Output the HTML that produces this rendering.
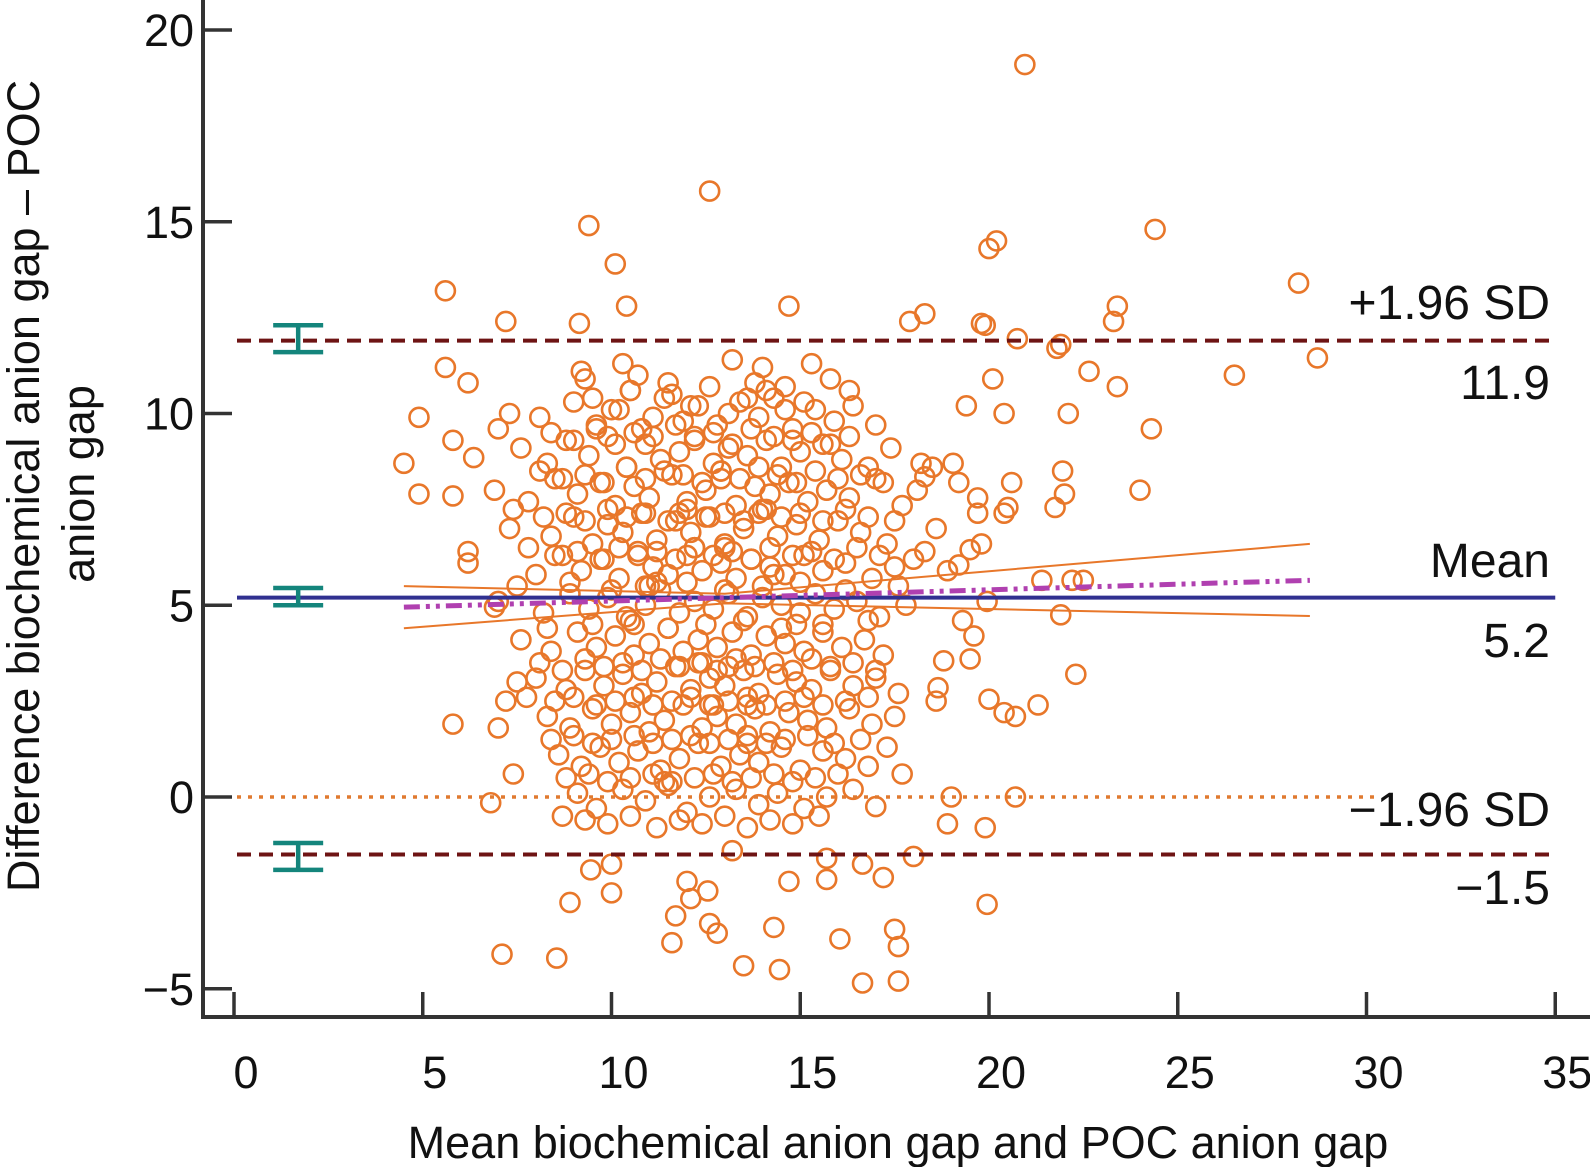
<!DOCTYPE html>
<html><head><meta charset="utf-8"><style>
html,body{margin:0;padding:0;background:#fff;}
svg{display:block;font-family:"Liberation Sans",Arial,sans-serif;}
</style></head><body>
<svg id="chart" width="1590" height="1167" viewBox="0 0 1590 1167" xmlns="http://www.w3.org/2000/svg">
<g id="pts"></g>
<g id="lines"></g>
<g id="axes"></g>
<text x="898" y="1158" font-size="45" text-anchor="middle" fill="#111">Mean biochemical anion gap and POC anion gap</text>
<text transform="translate(39,486) rotate(-90)" font-size="45" text-anchor="middle" fill="#111">Difference biochemical anion gap – POC</text>
<text transform="translate(94,484) rotate(-90)" font-size="45" text-anchor="middle" fill="#111">anion gap</text>
<text x="1550" y="319" font-size="48" text-anchor="end" fill="#111">+1.96 SD</text>
<text x="1550" y="399" font-size="48" text-anchor="end" fill="#111">11.9</text>
<text x="1550" y="577" font-size="48" text-anchor="end" fill="#111">Mean</text>
<text x="1550" y="657" font-size="48" text-anchor="end" fill="#111">5.2</text>
<text x="1550" y="826" font-size="48" text-anchor="end" fill="#111">−1.96 SD</text>
<text x="1550" y="904" font-size="48" text-anchor="end" fill="#111">−1.5</text>
</svg>
<script>
const xTicks=[0,5,10,15,20,25,30,35];
const yTicks=[-5,0,5,10,15,20];
const yTickLabels=["−5","0","5","10","15","20"];
const meanDiff=5.2, upperLoA=11.9, lowerLoA=-1.5;
const meanCI=[5.0,5.45], upperCI=[11.6,12.3], lowerCI=[-1.9,-1.2];
const regX=[4.5,28.5], regY=[4.95,5.65];
const ciUpperX=[4.5,13,28.5], ciUpperY=[5.5,5.3,6.6];
const ciLowerX=[4.5,13,28.5], ciLowerY=[4.4,5.05,4.72];
const ptsX=[20.95,12.6,9.4,10.1,24.4,20.2,20.0,28.2,5.6,10.4,14.7,7.2,9.15,17.9,18.3,19.8,19.9,23.4,23.3,28.7,26.5,22.65,21.9,21.8,20.75,20.1,23.4,19.4,20.4,22.1,24.3,24.0,21.95,22.0,21.75,20.6,20.5,20.4,4.5,4.9,4.9,5.6,6.2,5.8,6.35,5.8,6.2,5.8,6.9,6.8,7.1,8.55,7.4,7.5,7.2,7.0,7.75,8.9,8.7,9.45,10.0,10.0,11.6,11.7,12.1,12.0,12.55,12.6,12.8,13.5,14.45,14.3,13.2,14.7,15.7,15.7,16.05,16.65,17.6,17.5,17.6,17.2,16.65,18.0,19.95,19.9,18.9,19.0,20.7,17.0,20.0,20.4,20.7,21.3,22.3,21.9,22.2,22.5,21.4,17.7,18.8,18.65,18.6,19.5,19.3,19.6,19.95,19.7,19.7,19.8,19.5,19.2,19.05,19.2,18.5,18.3,
9.2,9.3,10.3,10.5,13.2,13.8,14.0,14.6,15.3,15.8,16.3,10.7,11.5,
8.1,9.0,9.6,10.2,10.8,11.4,11.9,12.3,12.8,13.4,13.9,14.3,14.8,15.4,15.9,16.4,17.0,7.3,7.0,
7.6,8.3,8.8,9.4,9.9,10.4,10.9,11.3,11.8,12.2,12.7,13.1,13.6,14.1,14.5,15.0,15.6,16.1,16.8,17.4,18.2,
6.9,7.8,8.5,9.1,9.7,10.1,10.6,11.0,11.6,12.0,12.5,12.9,13.3,13.8,14.2,14.7,15.2,15.7,16.3,17.0,17.7,18.1,
7.3,8.4,9.0,9.5,9.9,10.3,10.8,11.2,11.7,12.1,12.6,13.0,13.5,13.9,14.4,14.9,15.5,16.0,16.6,17.3,18.6,
6.2,8.0,8.7,9.2,9.8,10.2,10.7,11.1,11.5,12.0,12.4,12.9,13.3,13.7,14.2,14.6,15.1,15.6,16.2,16.9,17.5,18.0,18.9,
7.0,8.2,8.9,9.4,9.9,10.4,10.9,11.3,11.8,12.2,12.7,13.1,13.6,14.0,14.5,15.0,15.4,15.9,16.5,17.1,17.8,
7.6,8.4,9.1,9.6,10.1,10.6,11.0,11.5,11.9,12.3,12.8,13.2,13.7,14.1,14.6,15.1,15.6,16.1,16.7,17.2,
8.0,8.8,9.3,9.8,10.3,10.8,11.2,11.7,12.1,12.6,13.0,13.5,13.9,14.4,14.9,15.3,15.8,16.4,17.0,17.6,
8.3,8.9,9.5,10.0,10.5,11.0,11.4,11.9,12.4,12.8,13.3,13.8,14.2,14.7,15.2,15.7,16.3,16.9,17.5,
8.6,9.2,9.7,10.2,10.7,11.3,11.8,12.3,12.9,13.4,13.9,14.5,15.0,15.6,16.2,16.8,17.3,
9.1,9.6,10.3,10.9,11.5,12.0,12.6,13.3,13.9,14.4,15.1,15.7,16.4,
10.6,11.2,12.4,13.0,13.6,14.1,14.9,10.9,12.2,13.1,11.8,12.7,13.6,14.3,11.4,12.9,
9.5,10.0,10.5,11.1,11.6,12.1,12.6,13.1,13.6,14.1,14.6,15.1,
8.4,9.0,9.6,10.1,10.6,11.1,11.7,12.2,12.7,13.2,13.7,14.3,14.8,15.3,15.8,16.3,
8.1,8.7,9.3,9.8,10.4,10.9,11.4,11.9,12.4,12.9,13.4,13.9,14.4,14.9,15.4,16.0,16.6,17.2,
7.4,8.2,8.8,9.3,9.9,10.4,10.9,11.5,12.0,12.5,13.0,13.5,14.0,14.5,15.0,15.6,16.2,16.8,17.5,
7.8,8.5,9.1,9.7,10.2,10.7,11.2,11.7,12.2,12.7,13.2,13.7,14.2,14.8,15.3,15.9,16.5,17.1,18.3,
7.5,8.3,8.9,9.5,10.0,10.5,11.0,11.5,12.0,12.5,13.0,13.5,14.0,14.5,15.0,15.6,16.2,16.8,17.6,
8.1,8.7,9.3,9.8,10.3,10.8,11.3,11.8,12.3,12.8,13.3,13.8,14.3,14.8,15.3,15.8,16.4,17.0,
8.5,9.0,9.6,10.1,10.6,11.1,11.6,12.1,12.6,13.1,13.6,14.1,14.6,15.1,15.6,16.2,16.8,
8.4,9.0,9.5,10.0,10.6,11.1,11.6,12.1,12.6,13.1,13.6,14.1,14.6,15.2,15.9,16.6,
8.8,9.4,9.9,10.5,11.1,11.6,12.2,12.7,13.2,13.7,14.3,14.8,15.4,16.0,
9.3,9.9,10.5,11.2,11.8,12.4,13.0,13.6,14.2,14.8,15.5];
const ptsY=[19.1,15.8,14.9,13.9,14.8,14.5,14.3,13.4,13.2,12.8,12.8,12.4,12.35,12.4,12.6,12.35,12.3,12.8,12.4,11.45,11.0,11.1,11.8,11.7,11.95,10.9,10.7,10.2,10.0,10.0,9.6,8.0,8.5,7.9,7.55,8.2,7.55,7.4,8.7,7.9,9.9,11.2,10.8,9.3,8.85,7.85,6.4,1.9,4.95,-0.15,-4.1,-4.2,0.6,3.0,2.5,1.8,2.6,-2.75,-0.5,-1.9,-1.75,-2.5,-3.8,-3.1,-2.65,-2.2,-2.45,-3.3,-3.55,-4.4,-4.5,-3.4,-1.4,-2.2,-2.15,-1.6,-3.7,-4.85,-4.8,-3.45,-3.9,-2.1,-1.75,-1.55,-2.8,-0.8,-0.7,0.0,0.0,-0.25,2.55,2.2,2.1,2.4,3.2,4.75,5.65,5.65,5.65,0.6,3.55,2.85,2.5,3.6,4.6,4.2,5.1,7.8,7.4,6.6,6.45,6.05,8.7,8.2,8.6,8.35,
11.1,10.9,11.3,10.6,11.4,10.8,11.2,10.7,11.3,10.9,10.6,11.0,10.8,
9.9,10.3,9.7,10.1,9.6,10.4,9.8,10.2,9.7,10.3,9.9,10.4,9.6,10.1,9.8,10.2,9.7,10.0,9.6,
9.1,8.7,9.3,8.9,9.4,8.6,9.2,8.8,9.0,9.4,8.7,9.1,8.9,9.3,8.6,9.0,9.2,8.8,8.6,9.1,8.7,
8.0,7.7,8.3,7.9,8.2,7.6,8.1,7.8,8.4,7.7,8.0,8.3,7.6,8.1,7.9,8.2,7.7,8.0,7.8,8.3,7.6,8.0,
7.0,6.8,7.3,6.6,7.1,6.9,7.4,6.7,7.2,6.9,7.3,6.6,7.0,7.4,6.8,7.1,6.7,7.2,6.9,6.6,7.0,
6.1,5.8,6.3,5.9,6.2,5.7,6.4,6.0,5.8,6.3,5.9,6.1,5.7,6.2,6.0,5.8,6.3,5.9,6.1,5.7,6.0,6.2,5.9,
5.1,4.8,5.3,4.9,5.2,4.7,5.0,5.4,4.8,5.1,4.9,5.3,4.7,5.2,5.0,4.8,5.3,4.9,5.1,4.7,5.0,
4.1,3.8,4.3,3.9,4.2,3.7,4.0,4.4,3.8,4.1,3.9,4.3,3.7,4.2,4.0,3.8,4.3,3.9,4.1,3.7,
3.1,2.8,3.3,2.9,3.2,2.7,3.0,3.4,2.8,3.1,2.9,3.3,2.7,3.2,3.0,2.8,3.3,2.9,3.1,2.7,
2.1,1.8,2.3,1.9,2.2,1.7,2.0,2.4,1.8,2.1,1.9,2.3,1.7,2.2,2.0,1.8,2.3,1.9,2.1,
1.1,0.8,1.3,0.9,1.2,0.7,1.0,1.4,0.8,1.1,0.9,1.3,0.7,1.2,1.0,0.8,1.3,
0.1,-0.3,0.2,-0.1,0.3,-0.4,0.0,0.2,-0.2,0.1,-0.3,0.0,0.2,
4.5,5.6,3.5,6.5,2.4,7.5,4.5,5.5,6.5,3.4,7.4,2.4,1.4,5.8,0.4,8.5,
10.4,10.1,10.6,9.9,10.5,10.2,10.7,10.0,10.4,10.6,10.1,10.3,
9.5,9.3,9.6,9.2,9.5,9.4,9.7,9.3,9.5,9.2,9.6,9.4,9.3,9.5,9.2,9.4,
8.5,8.3,8.4,8.2,8.6,8.3,8.5,8.4,8.2,8.5,8.3,8.6,8.4,8.2,8.5,8.3,8.4,8.2,
7.5,7.3,7.4,7.2,7.5,7.3,7.4,7.2,7.5,7.3,7.4,7.2,7.5,7.3,7.4,7.2,7.5,7.3,7.2,
6.5,6.3,6.4,6.2,6.5,6.3,6.4,6.2,6.5,6.3,6.4,6.2,6.5,6.3,6.4,6.2,6.5,6.3,6.4,
5.5,4.4,5.6,4.5,5.4,4.6,5.5,4.4,5.6,4.5,5.4,4.6,5.5,4.4,5.6,4.5,5.4,4.6,5.5,
3.5,3.3,3.6,3.4,3.5,3.3,3.6,3.4,3.5,3.3,3.6,3.4,3.5,3.3,3.6,3.4,3.5,3.3,
2.5,2.6,2.4,2.5,2.6,2.4,2.5,2.6,2.4,2.5,2.6,2.4,2.5,2.6,2.4,2.5,2.6,
1.5,1.6,1.4,1.5,1.6,1.4,1.5,1.6,1.4,1.5,1.6,1.4,1.5,1.6,1.4,1.5,
0.5,0.6,0.4,0.5,0.6,0.4,0.5,0.6,0.4,0.5,0.6,0.4,0.5,0.6,
-0.6,-0.7,-0.5,-0.8,-0.6,-0.7,-0.5,-0.8,-0.6,-0.7,-0.5];

const NS="http://www.w3.org/2000/svg";
const X=v=>234+37.75*v;
const Y=v=>797-38.35*v;
function mk(tag,attrs,parent){const e=document.createElementNS(NS,tag);for(const k in attrs)e.setAttribute(k,attrs[k]);parent.appendChild(e);return e;}
const gp=document.getElementById('pts'),gl=document.getElementById('lines'),ga=document.getElementById('axes');

for(let i=0;i<ptsX.length;i++){
  const c=mk('circle',{cx:X(ptsX[i]),cy:Y(ptsY[i]),r:9.5,fill:'none',stroke:'#e8772a','stroke-width':2.6},gp);
  
  
}
let l=mk('line',{x1:X(0)+3,x2:X(30.2),y1:Y(0),y2:Y(0),stroke:'#e07a30','stroke-width':3.5,'stroke-dasharray':'4 7'},gl);


l=mk('line',{x1:X(0)+3,x2:X(35),y1:Y(upperLoA),y2:Y(upperLoA),stroke:'#6e1414','stroke-width':4,'stroke-dasharray':'14 8'},gl);


l=mk('line',{x1:X(0)+3,x2:X(35),y1:Y(lowerLoA),y2:Y(lowerLoA),stroke:'#6e1414','stroke-width':4,'stroke-dasharray':'14 8'},gl);


let p=mk('polyline',{points:ciUpperX.map((v,i)=>X(v)+','+Y(ciUpperY[i])).join(' '),fill:'none',stroke:'#e8772a','stroke-width':2},gl);


p=mk('polyline',{points:ciLowerX.map((v,i)=>X(v)+','+Y(ciLowerY[i])).join(' '),fill:'none',stroke:'#e8772a','stroke-width':2},gl);


l=mk('line',{x1:X(0)+3,x2:X(35),y1:Y(meanDiff),y2:Y(meanDiff),stroke:'#303090','stroke-width':4},gl);


l=mk('line',{x1:X(regX[0]),x2:X(regX[1]),y1:Y(regY[0]),y2:Y(regY[1]),stroke:'#b040b0','stroke-width':5,'stroke-dasharray':'16 6 4 6 4 6'},gl);


[[upperCI,'upper-loa-ci'],[meanCI,'mean-ci'],[lowerCI,'lower-loa-ci']].forEach(([ci,n])=>{
  const g=mk('g',{stroke:'#14857c','stroke-width':4.5},gl);
  
  
  const cx=X(1.7);
  mk('line',{x1:cx,x2:cx,y1:Y(ci[0]),y2:Y(ci[1])},g);
  mk('line',{x1:cx-25,x2:cx+25,y1:Y(ci[0]),y2:Y(ci[0])},g);
  mk('line',{x1:cx-25,x2:cx+25,y1:Y(ci[1]),y2:Y(ci[1])},g);
});
l=mk('line',{x1:203,x2:203,y1:0,y2:1019,stroke:'#333','stroke-width':4},ga);


l=mk('line',{x1:201,x2:1590,y1:1017,y2:1017,stroke:'#333','stroke-width':4},ga);


yTicks.forEach((v,i)=>{
  const t=mk('line',{x1:203,x2:232,y1:Y(v),y2:Y(v),stroke:'#333','stroke-width':3.5},ga);
  
  
  const tx=mk('text',{x:194,y:Y(v)+16,'font-size':45,'text-anchor':'end',fill:'#111'},ga);
  tx.textContent=yTickLabels[i];
  
  
});
xTicks.forEach(v=>{
  const t=mk('line',{x1:X(v),x2:X(v),y1:992,y2:1017,stroke:'#333','stroke-width':3.5},ga);
  
  
  const tx=mk('text',{x:X(v)+12,y:1088,'font-size':45,'text-anchor':'middle',fill:'#111'},ga);
  tx.textContent=String(v);
  
  
});
</script>
</body></html>
